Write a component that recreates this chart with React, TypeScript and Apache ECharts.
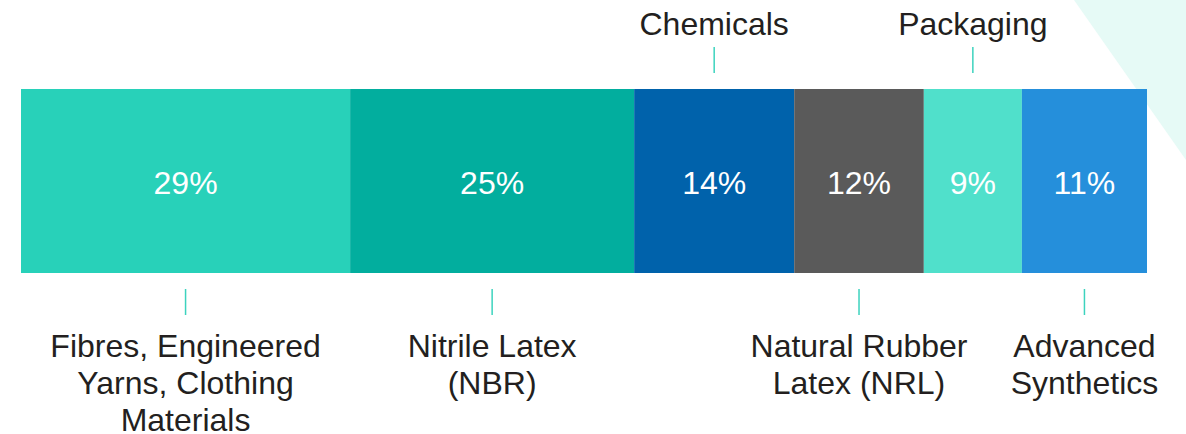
import React, { useEffect, useRef } from "react";
import * as echarts from "echarts";

const categories = [
  "Fibres, Engineered\nYarns, Clothing\nMaterials",
  "Nitrile Latex\n(NBR)",
  "Chemicals",
  "Natural Rubber\nLatex (NRL)",
  "Packaging",
  "Advanced\nSynthetics",
];
// shares; labels show the rounded percentages
const shares = [29.2, 25.2, 14.2, 11.5, 8.7, 11.1];
const colors = ["#28D1B9", "#02AE9E", "#0062AB", "#5A5A5A", "#50E0CB", "#258FDB"];
const labelAbove = [false, false, true, false, true, false];

const FONT = "Liberation Sans";
const FS = 32;
const W = 1186;
const H = 434;
const GRID_TOP = 89;
const GRID_H = 184;

export default function App() {
  const ref = useRef<HTMLDivElement>(null);
  useEffect(() => {
    document.body.style.margin = "0";
    if (!ref.current) return;
    const chart = echarts.init(ref.current, null, { renderer: "svg" });
    const total = shares.reduce((a, b) => a + b, 0);
    chart.setOption({
      animation: false,
      backgroundColor: "#ffffff",
      grid: { left: 21, right: 39, top: GRID_TOP, height: GRID_H },
      xAxis: { type: "value", min: 0, max: total, show: false },
      yAxis: { type: "category", data: ["share"], show: false },
      series: categories.map((c, i) => ({
        name: c,
        type: "bar",
        stack: "total",
        barWidth: "100%",
        data: [shares[i]],
        itemStyle: { color: colors[i] },
        label: {
          show: true,
          position: "inside",
          offset: [0, 2],
          formatter: (p: any) => Math.round(p.value) + "%",
          color: "#ffffff",
          fontSize: FS,
          fontFamily: FONT,
        },
      })),
    });

    const graphics: any[] = [
      {
        type: "polygon",
        z: -10,
        silent: true,
        shape: { points: [[1074, 0], [W, 0], [W, 160]] },
        style: { fill: "#E6FAF6" },
      },
    ];
    let cum = 0;
    shares.forEach((v, i) => {
      const center = cum + v / 2;
      cum += v;
      const p = chart.convertToPixel({ gridIndex: 0 }, [center, 0]) as number[];
      const x = p[0];
      if (labelAbove[i]) {
        graphics.push({
          type: "line",
          shape: { x1: x, y1: 47, x2: x, y2: 73 },
          style: { stroke: "#3CD3BE", lineWidth: 1.5 },
        });
        graphics.push({
          type: "text",
          x,
          y: 24,
          style: {
            text: categories[i],
            fill: "#231F20",
            fontSize: FS,
            fontFamily: FONT,
            align: "center",
            verticalAlign: "middle",
          },
        });
      } else {
        graphics.push({
          type: "line",
          shape: { x1: x, y1: 289, x2: x, y2: 315 },
          style: { stroke: "#3CD3BE", lineWidth: 1.5 },
        });
        graphics.push({
          type: "text",
          x,
          y: 327,
          style: {
            text: categories[i],
            fill: "#231F20",
            fontSize: FS,
            lineHeight: 37,
            fontFamily: FONT,
            align: "center",
            verticalAlign: "top",
          },
        });
      }
    });
    chart.setOption({ graphic: graphics });
    return () => chart.dispose();
  }, []);
  return <div ref={ref} style={{ width: W, height: H }} />;
}
